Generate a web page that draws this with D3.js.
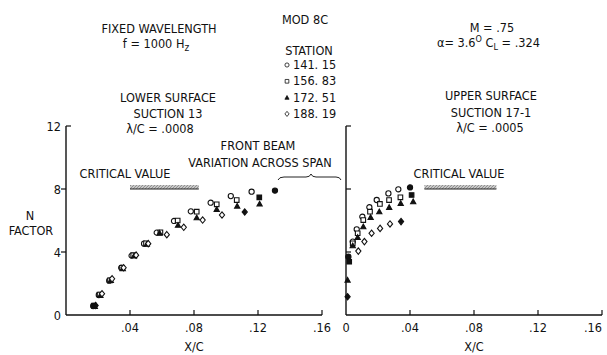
<!DOCTYPE html>
<html>
<head>
<meta charset="utf-8">
<script src="https://cdn.jsdelivr.net/npm/d3@7"></script>
<style>
    html, body { margin: 0; padding: 0; background: #fff; }
    svg text { font-family: "DejaVu Sans Condensed", "Liberation Sans Narrow", sans-serif; font-size: 12.6px; fill: #111; }
</style>
</head>
<body>
<div id="chart"></div>
<script>
// станции (легенда)
var stations = ["141. 15", "156. 83", "172. 51", "188. 19"];
var symbols = ["circle", "square", "triangle", "diamond"];

var xTicks = [0, 0.04, 0.08, 0.12, 0.16];
var yTicks = [0, 4, 8, 12];

// нижняя поверхность, X/C и N по станциям
var lowerX = [
    [0.017, 0.0205, 0.027, 0.0345, 0.041, 0.0488, 0.0567, 0.0675, 0.078, 0.0904, 0.103, 0.116, 0.1306],
    [0.0175, 0.021, 0.0275, 0.035, 0.042, 0.05, 0.059, 0.0698, 0.0817, 0.0942, 0.1067, 0.1208],
    [0.018, 0.0215, 0.028, 0.0355, 0.0425, 0.0505, 0.0585, 0.07, 0.0817, 0.0942, 0.107, 0.121],
    [0.0185, 0.0225, 0.0288, 0.036, 0.0438, 0.0514, 0.063, 0.0736, 0.0854, 0.0975, 0.1117]
];
var lowerN = [
    [0.57, 1.27, 2.18, 3.0, 3.77, 4.53, 5.23, 5.97, 6.58, 7.13, 7.55, 7.83, 7.9],
    [0.6, 1.3, 2.2, 3.0, 3.8, 4.55, 5.25, 6.0, 6.56, 7.03, 7.3, 7.47],
    [0.55, 1.25, 2.2, 2.95, 3.75, 4.5, 5.2, 5.7, 6.18, 6.71, 6.92, 7.05],
    [0.6, 1.35, 2.3, 3.0, 3.8, 4.53, 5.1, 5.57, 6.03, 6.35, 6.54]
];
// верхняя поверхность
var upperX = [
    [0.0015, 0.0042, 0.0067, 0.0102, 0.0146, 0.0192, 0.0265, 0.0327, 0.04],
    [0.002, 0.0042, 0.0073, 0.0108, 0.015, 0.0212, 0.0269, 0.034, 0.041],
    [0.001, 0.0042, 0.0073, 0.0108, 0.0154, 0.0208, 0.027, 0.0342, 0.042],
    [0.001, 0.0077, 0.0115, 0.016, 0.0213, 0.0275, 0.0344]
];
var upperN = [
    [3.7, 4.66, 5.44, 6.24, 6.84, 7.3, 7.72, 7.98, 8.1],
    [3.38, 4.55, 5.19, 6.03, 6.56, 7.05, 7.3, 7.47, 7.62],
    [2.22, 4.4, 4.93, 5.61, 6.2, 6.56, 6.84, 7.09, 7.2],
    [1.16, 4.06, 4.66, 5.19, 5.5, 5.78, 5.93]
];
// номера точек перехода (закрашенные) для каждой станции
var lowerSolid = [[0, 12], [0, 11], [], [0, 10]];
var upperSolid = [[0, 8], [0, 8], [0], [0, 6]];

var criticalN = 8;
var lowerCritical = [0.04, 0.083];
var upperCritical = [0.049, 0.094];

var width = 607, height = 355;
var svg = d3.select("#chart").append("svg")
    .attr("width", width)
    .attr("height", height);

var y = d3.scaleLinear().domain([0, 12]).range([315, 126]);
var xLeft = d3.scaleLinear().domain([0, 0.16]).range([66, 322]);
var xRight = d3.scaleLinear().domain([0, 0.16]).range([346, 602]);

var defs = svg.append("defs");
var pat = defs.append("pattern")
    .attr("id", "hatch")
    .attr("patternUnits", "userSpaceOnUse")
    .attr("width", 3)
    .attr("height", 4)
    .attr("patternTransform", "skewX(-45)");
pat.append("line")
    .attr("x1", 1).attr("y1", 0).attr("x2", 1).attr("y2", 4)
    .attr("stroke", "#222")
    .attr("stroke-width", 1);

function fmtTick(d) {
    return d === 0 ? "0" : d3.format(".2f")(d).replace(/^0/, "");
}

function symbolPath(type, cx, cy) {
    var s = 2.6;
    if (type === "circle") {
        return "M" + (cx - s) + "," + cy + "a" + s + "," + s + " 0 1,0 " + 2 * s + ",0a" + s + "," + s + " 0 1,0 " + (-2 * s) + ",0Z";
    } else if (type === "square") {
        return "M" + (cx - s + 0.3) + "," + (cy - s + 0.3) + "h" + (2 * s - 0.6) + "v" + (2 * s - 0.6) + "h" + (-(2 * s - 0.6)) + "Z";
    } else if (type === "triangle") {
        return "M" + cx + "," + (cy - s) + "L" + (cx + s) + "," + (cy + s * 0.8) + "L" + (cx - s) + "," + (cy + s * 0.8) + "Z";
    }
    return "M" + cx + "," + (cy - s - 0.6) + "L" + (cx + s) + "," + cy + "L" + cx + "," + (cy + s + 0.6) + "L" + (cx - s) + "," + cy + "Z";
}

/**
 * Отрисовка панели
 */
function drawPanel(x, xs, ns, solid, showYLabels, crit) {
    var g = svg.append("g");

    // ось Y
    g.append("line")
        .attr("x1", x(0)).attr("x2", x(0))
        .attr("y1", y(12)).attr("y2", y(0))
        .attr("stroke", "#111").attr("stroke-width", 1.4);
    yTicks.forEach(function (t) {
        if (t === 0) return;
        var dir = (t === 12 || !showYLabels) ? 1 : -1;
        g.append("line")
            .attr("x1", x(0)).attr("x2", x(0) + dir * 5)
            .attr("y1", y(t)).attr("y2", y(t))
            .attr("stroke", "#111").attr("stroke-width", 1.2);
    });
    if (showYLabels) {
        g.selectAll(".ylab")
            .data(yTicks)
            .enter().append("text")
            .attr("x", x(0) - 5)
            .attr("y", function (d) { return y(d) + 4.5; })
            .attr("text-anchor", "end")
            .text(function (d) { return d; });
    }

    // ось X
    g.append("line")
        .attr("x1", x(0)).attr("x2", x(0.16))
        .attr("y1", y(0)).attr("y2", y(0))
        .attr("stroke", "#111").attr("stroke-width", 1.4);
    xTicks.forEach(function (t) {
        if (t === 0) return;
        g.append("line")
            .attr("x1", x(t)).attr("x2", x(t))
            .attr("y1", y(0)).attr("y2", y(0) - 5)
            .attr("stroke", "#111").attr("stroke-width", 1.2);
    });
    g.selectAll(".xlab")
        .data(showYLabels ? xTicks.slice(1) : xTicks)
        .enter().append("text")
        .attr("x", function (d) { return Math.min(x(d), 593); })
        .attr("y", 332)
        .attr("text-anchor", "middle")
        .text(fmtTick);
    g.append("text")
        .attr("x", x(0.08))
        .attr("y", 351)
        .attr("text-anchor", "middle")
        .text("X/C");

    // критическое значение
    g.append("rect")
        .attr("x", x(crit[0]))
        .attr("y", y(criticalN) - 4)
        .attr("width", x(crit[1]) - x(crit[0]))
        .attr("height", 4)
        .attr("fill", "url(#hatch)");
    g.append("line")
        .attr("x1", x(crit[0])).attr("x2", x(crit[1]))
        .attr("y1", y(criticalN)).attr("y2", y(criticalN))
        .attr("stroke", "#222").attr("stroke-width", 1);

    // точки
    xs.forEach(function (row, si) {
        var pts = row.map(function (v, i) { return [v, ns[si][i], i]; });
        g.selectAll(".pt" + si)
            .data(pts)
            .enter().append("path")
            .attr("d", function (d) { return symbolPath(symbols[si], x(d[0]), y(d[1])); })
            .attr("fill", function (d) {
                return (symbols[si] === "triangle" || solid[si].indexOf(d[2]) !== -1) ? "#111" : "#fff";
            })
            .attr("stroke", "#111")
            .attr("stroke-width", 1.1);
    });
    return g;
}

drawPanel(xLeft, lowerX, lowerN, lowerSolid, true, lowerCritical);
drawPanel(xRight, upperX, upperN, upperSolid, false, upperCritical);

// подписи
function label(txt, x, yy, anchor) {
    return svg.append("text")
        .attr("x", x)
        .attr("y", yy)
        .attr("text-anchor", anchor || "middle")
        .text(txt);
}

label("FIXED WAVELENGTH", 159, 33);
var fz = label("f = 1000 H", 156, 48);
fz.append("tspan").attr("dy", 3).attr("font-size", 10).text("z");
label("LOWER SURFACE", 168, 102);
label("SUCTION 13", 168, 118);
label("\u03bb/C = .0008", 160, 133);
label("CRITICAL VALUE", 125, 178);
label("FRONT BEAM", 258, 150);
label("VARIATION ACROSS SPAN", 260, 167);
label("N", 30, 220);
label("FACTOR", 31, 235);

label("MOD 8C", 305, 24);
label("STATION", 309, 55);
svg.selectAll(".leg")
    .data(stations)
    .enter().append("text")
    .attr("x", 293)
    .attr("y", function (d, i) { return 69 + i * 16.3; })
    .text(function (d) { return d; });
svg.selectAll(".legsym")
    .data(stations)
    .enter().append("path")
    .attr("d", function (d, i) {
        return symbolPath(symbols[i], 287, 65 + i * 16.3);
    })
    .attr("fill", function (d, i) { return symbols[i] === "triangle" ? "#111" : "#fff"; })
    .attr("stroke", "#111")
    .attr("stroke-width", 1)
    .attr("transform", function (d, i) {
        var cy = 65 + i * 16.3;
        return "translate(287," + cy + ") scale(0.8) translate(-287," + (-cy) + ")";
    });

label("M = .75", 492, 32);
var al = label("\u03b1= 3.6", 437, 46.5, "start");
al.append("tspan").attr("dy", -5).attr("font-size", 9).text("O");
al.append("tspan").attr("dy", 5).text("  C");
al.append("tspan").attr("dy", 3).attr("font-size", 9).text("L");
al.append("tspan").attr("dy", -3).text(" = .324");
label("UPPER SURFACE", 491, 100);
label("SUCTION 17-1", 491, 117);
label("\u03bb/C = .0005", 490, 132);
label("CRITICAL VALUE", 459, 178);

// фигурная скобка
svg.append("path")
    .attr("d", "M278,180 Q279,177 284,177 L306,177 Q310,177 311,174 Q312,177 316,177 L336,177 Q340,177 341,180")
    .attr("fill", "none")
    .attr("stroke", "#222")
    .attr("stroke-width", 1);
</script>
</body>
</html>
